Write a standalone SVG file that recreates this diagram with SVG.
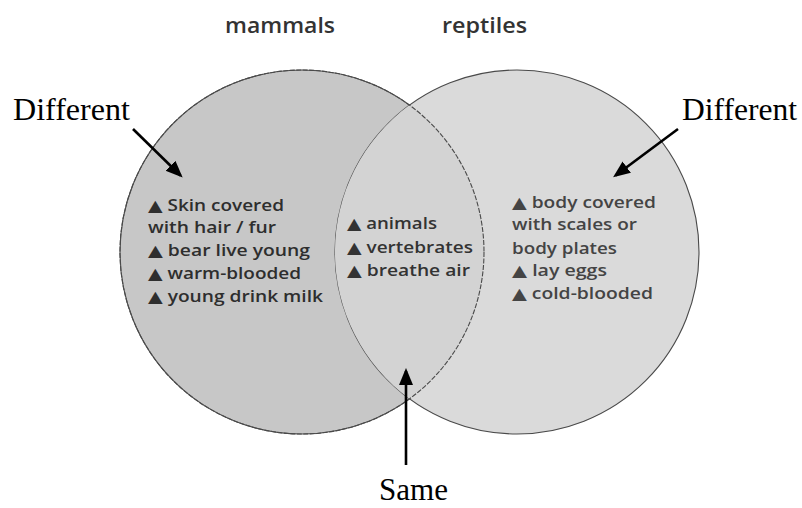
<svg xmlns="http://www.w3.org/2000/svg" width="802" height="508" viewBox="0 0 802 508">
<style>
.circ{stroke:#4a4a4a;stroke-width:1.1}
.title{font-family:"Open Sans","Liberation Sans",sans-serif;font-weight:600;font-size:21px;fill:#333}
.list{font-family:"Open Sans","DejaVu Sans",sans-serif;font-weight:600;font-size:16px}
.b{font-family:"DejaVu Sans",sans-serif;font-size:16px}
.left{fill:#2e2e2e}
.mid{fill:#333}
.right{fill:#444}
.lbl{font-family:"Liberation Serif","Times New Roman",serif;font-size:31px;fill:#000}
.arr{stroke:#000;stroke-width:2.6;fill:none}
</style>
<defs>
<marker id="ah" markerUnits="userSpaceOnUse" markerWidth="18" markerHeight="16" refX="14" refY="7" orient="auto">
<path d="M0,0 L17,7 L0,14 z" fill="#000"/>
</marker>
</defs>
<rect width="802" height="508" fill="#fff"/>
<g id="mammals">
<circle class="circ" cx="302" cy="252" r="182" fill="#c7c7c7"/>
<text class="title" x="225" y="33" textLength="110" lengthAdjust="spacingAndGlyphs">mammals</text>
</g>
<g id="reptiles">
<circle class="circ" cx="517" cy="252" r="182" fill="#dadada"/>
<text class="title" x="442" y="33" textLength="85" lengthAdjust="spacingAndGlyphs">reptiles</text>
</g>
<g id="overlap">
<path d="M409.5,105.1 A182,182 0 0 1 409.5,398.9 A182,182 0 0 1 409.5,105.1 Z" fill="#d3d3d3" stroke="none"/>
<circle cx="302" cy="252" r="182" fill="none" stroke="#4a4a4a" stroke-width="1.1" stroke-dasharray="5 1.5"/>
</g>
<g id="mammals-text" class="list left">
<text x="148" y="211" textLength="136" lengthAdjust="spacingAndGlyphs"><tspan class="b">▲</tspan> Skin covered</text>
<text x="148" y="233" textLength="128" lengthAdjust="spacingAndGlyphs">with hair / fur</text>
<text x="148" y="256" textLength="162" lengthAdjust="spacingAndGlyphs"><tspan class="b">▲</tspan> bear live young</text>
<text x="148" y="279" textLength="153" lengthAdjust="spacingAndGlyphs"><tspan class="b">▲</tspan> warm-blooded</text>
<text x="148" y="302" textLength="175" lengthAdjust="spacingAndGlyphs"><tspan class="b">▲</tspan> young drink milk</text>
</g>
<g id="same-text" class="list mid">
<text x="347" y="229" textLength="90" lengthAdjust="spacingAndGlyphs"><tspan class="b">▲</tspan> animals</text>
<text x="347" y="253" textLength="126" lengthAdjust="spacingAndGlyphs"><tspan class="b">▲</tspan> vertebrates</text>
<text x="347" y="276" textLength="123" lengthAdjust="spacingAndGlyphs"><tspan class="b">▲</tspan> breathe air</text>
</g>
<g id="reptiles-text" class="list right">
<text x="512" y="208" textLength="144" lengthAdjust="spacingAndGlyphs"><tspan class="b">▲</tspan> body covered</text>
<text x="512" y="230" textLength="125" lengthAdjust="spacingAndGlyphs">with scales or</text>
<text x="512" y="254" textLength="105" lengthAdjust="spacingAndGlyphs">body plates</text>
<text x="512" y="276" textLength="95" lengthAdjust="spacingAndGlyphs"><tspan class="b">▲</tspan> lay eggs</text>
<text x="512" y="299" textLength="141" lengthAdjust="spacingAndGlyphs"><tspan class="b">▲</tspan> cold-blooded</text>
</g>
<g id="label-different-left">
<text class="lbl" x="13" y="120" textLength="117" lengthAdjust="spacingAndGlyphs">Different</text>
</g>
<g id="label-different-right">
<text class="lbl" x="682" y="120" textLength="115" lengthAdjust="spacingAndGlyphs">Different</text>
</g>
<g id="label-same">
<text class="lbl" x="379" y="500" textLength="69" lengthAdjust="spacingAndGlyphs">Same</text>
</g>
<g id="connectors">
<line class="arr" x1="133" y1="129" x2="180.5" y2="175.5" marker-end="url(#ah)"/>
<line class="arr" x1="678" y1="129" x2="615.5" y2="175.5" marker-end="url(#ah)"/>
<line class="arr" x1="406" y1="465" x2="406" y2="371" marker-end="url(#ah)"/>
</g>
</svg>
